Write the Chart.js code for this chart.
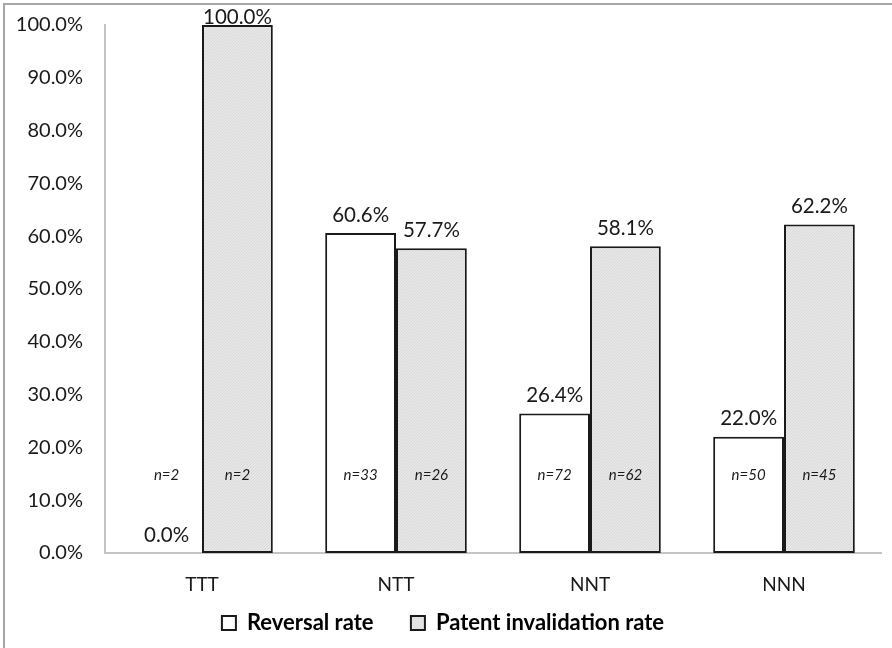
<!DOCTYPE html>
<html>
<head>
<meta charset="utf-8">
<script src="https://cdn.jsdelivr.net/npm/chart.js@4"></script>
<style>
  html, body { margin: 0; padding: 0; background: #fff; overflow: hidden; }
  #wrap {
    position: absolute; left: 3px; top: 3px;
    width: 889px; height: 645px;
    border-left: 2px solid #a6a6a6; border-top: 2px solid #a6a6a6;
  }
</style>
</head>
<body>
<div id="wrap"><canvas id="chart" width="889" height="645"></canvas></div>
<script>
const categories = ["TTT", "NTT", "NNT", "NNN"];
const reversalRate = [0.0, 60.6, 26.4, 22.0];
const invalidationRate = [100.0, 57.7, 58.1, 62.2];
const reversalN = [2, 33, 72, 50];
const invalidationN = [2, 26, 62, 45];
const seriesNames = ["Reversal rate", "Patent invalidation rate"];

const FONT = "Lato, 'Liberation Sans', sans-serif";
const INK = "#1a1a1a";

// light grey fill with fine diagonal hatch
function makeHatch() {
  const c = document.createElement("canvas");
  c.width = 3; c.height = 3;
  const g = c.getContext("2d");
  g.fillStyle = "#e7e7e7";
  g.fillRect(0, 0, 3, 3);
  g.fillStyle = "#d9d9d9";
  for (let i = 0; i < 3; i++) g.fillRect(i, 2 - i, 1, 1);
  return g.createPattern(c, "repeat");
}
const hatch = makeHatch();

// value labels above the bars, n= labels inside
const barLabels = {
  id: "barLabels",
  afterDatasetsDraw(chart) {
    const ctx = chart.ctx;
    const y = chart.scales.y;
    const nLists = [reversalN, invalidationN];
    ctx.save();
    ctx.textAlign = "center";
    ctx.textBaseline = "middle";
    chart.data.datasets.forEach((ds, di) => {
      const meta = chart.getDatasetMeta(di);
      meta.data.forEach((bar, i) => {
        ctx.fillStyle = INK;
        ctx.font = "20.5px " + FONT;
        const ty = Math.max(bar.y - 18, 12);
        ctx.fillText(ds.data[i].toFixed(1) + "%", bar.x, ty);
        ctx.font = "italic 15px " + FONT;
        ctx.fillText("n=" + nLists[di][i], bar.x, y.getPixelForValue(14.8));
      });
    });
    ctx.restore();
  }
};

new Chart(document.getElementById("chart"), {
  type: "bar",
  data: {
    labels: categories,
    datasets: [
      {
        label: seriesNames[0],
        data: reversalRate,
        backgroundColor: "#ffffff",
        borderColor: INK,
        borderWidth: (c) => (c.raw === 0 ? 0 : 2),
        borderSkipped: false
      },
      {
        label: seriesNames[1],
        data: invalidationRate,
        backgroundColor: hatch,
        borderColor: INK,
        borderWidth: 2,
        borderSkipped: false
      }
    ]
  },
  options: {
    responsive: false,
    animation: false,
    layout: { padding: { top: 20, right: 13, left: 0, bottom: 6 } },
    datasets: { bar: { categoryPercentage: 0.73, barPercentage: 1.0 } },
    plugins: {
      legend: {
        position: "bottom",
        labels: {
          color: INK,
          font: { family: FONT, size: 22, weight: "bold" },
          boxWidth: 14,
          boxHeight: 14,
          padding: 16,
          // trailing nbsp widens the gap between the two items
          generateLabels: (chart) => chart.data.datasets.map((ds, i) => ({
            text: i === 0 ? ds.label + "\u00a0\u00a0\u00a0\u00a0" : ds.label,
            fillStyle: i === 0 ? "#ffffff" : hatch,
            strokeStyle: INK,
            lineWidth: 2,
            datasetIndex: i
          }))
        }
      },
      tooltip: { enabled: false }
    },
    scales: {
      x: {
        grid: { display: false, drawTicks: false },
        border: { display: true, color: "#c4c4c4", width: 2 },
        ticks: { color: INK, font: { family: FONT, size: 19 }, padding: 20 },
        afterFit: (s) => { s.height = 43; s.paddingLeft = 0; s.paddingRight = 0; }
      },
      y: {
        min: 0,
        max: 100,
        grid: { display: false, drawTicks: false },
        border: { display: true, color: "#c4c4c4", width: 2 },
        ticks: {
          stepSize: 10,
          color: INK,
          font: { family: FONT, size: 20 },
          padding: 22,
          callback: (v) => v.toFixed(1) + "%"
        },
        afterFit: (s) => { s.width = 100; s.paddingTop = 0; s.paddingBottom = 0; }
      }
    }
  },
  plugins: [barLabels]
});
</script>
</body>
</html>
